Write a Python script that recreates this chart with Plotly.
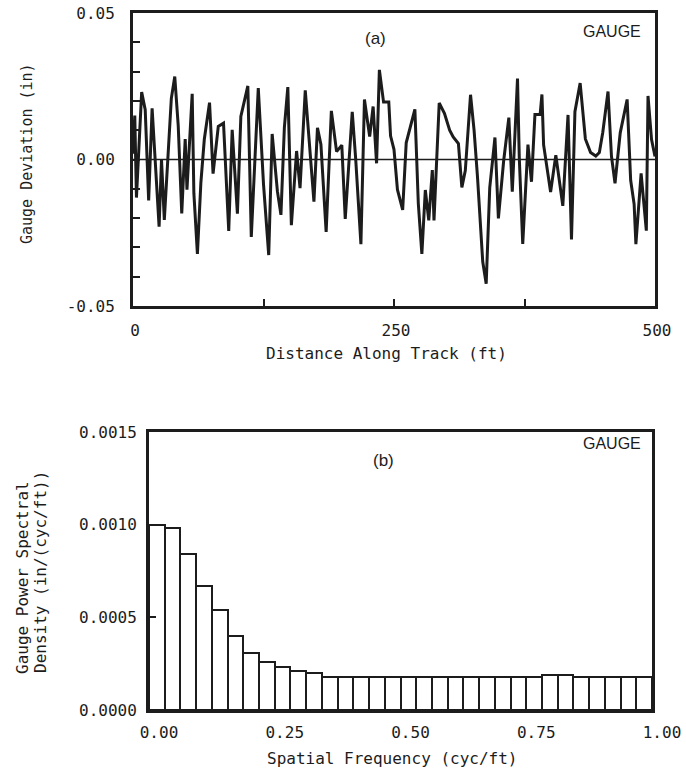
import plotly.graph_objects as go

# ---------------- data ----------------
distance_ft = [0, 1.7, 3.3, 8.3, 11.7, 15, 18.3, 25, 27.3, 30, 36.7, 40, 43.3, 46.7, 50, 51.7,
               56.7, 58.3, 61.7, 65, 68.3, 73.3, 76.7, 81.7, 86.7, 91.7, 95, 100, 103.3, 110,
               113.3, 120, 125, 130, 133.3, 138.3, 141.7, 145, 148.3, 151.7, 156.7, 160, 165,
               168.3, 173.3, 176.7, 180, 185, 190, 195, 200, 203.3, 210, 213.3, 218.3, 221.7,
               226.7, 230, 233.3, 236, 240, 245, 246.7, 250, 253.3, 258.3, 261.7, 270, 273.3,
               276.7, 280, 283.3, 286.7, 288.3, 293.3, 298.3, 303.3, 306.7, 311.7, 315, 318.3,
               323.3, 326.7, 330, 335, 338.3, 341.7, 346.7, 350, 355, 360, 363.3, 368.3, 370,
               373.3, 378.3, 381.7, 385, 390, 391.7, 393.3, 400, 405, 411.7, 416.7, 420, 423.3,
               428.3, 433.3, 438.3, 443.3, 446.7, 450, 455, 458.3, 461.7, 466.7, 473.3, 476.7,
               480, 481.7, 486.7, 491.7, 493.3, 496.7, 500]
gauge_dev_in = [0.002, 0.015, -0.013, 0.023, 0.017, -0.014, 0.0175, -0.0229, 0.000, -0.0206,
                0.0208, 0.0283, 0.0116, -0.0184, 0.0070, -0.0103, 0.0224, -0.0115, -0.0322,
                -0.0080, 0.0069, 0.0194, -0.0048, 0.0113, 0.0124, -0.0244, 0.0101, -0.0185,
                0.0147, 0.0251, -0.0264, 0.0244, -0.0084, -0.0326, 0.0087, -0.0108, -0.0189,
                0.0110, 0.0247, -0.0224, 0.0029, -0.0098, 0.0236, 0.0085, -0.0144, 0.0108,
                0.0051, -0.0247, 0.0166, 0.0027, 0.0049, -0.0203, 0.0163, 0.0002, -0.0289,
                0.0205, 0.0078, 0.0181, -0.0013, 0.0306, 0.0196, 0.0196, 0.0081, 0.0034,
                -0.0103, -0.0172, 0.0057, 0.0171, -0.0151, -0.0322, -0.0104, -0.0208, -0.0036,
                -0.0208, 0.0193, 0.0158, 0.0100, 0.0077, 0.0054, -0.0095, -0.0038, 0.0221,
                0.0100, -0.0061, -0.0349, -0.0424, -0.0097, 0.0075, -0.0201, -0.0006, 0.0143,
                -0.0110, 0.0276, 0.0006, -0.0288, 0.0051, -0.0076, 0.0154, 0.0154, 0.0222,
                0.0050, -0.0111, 0.0015, -0.0158, 0.0152, -0.0273, 0.0163, 0.0261, 0.0070,
                0.0024, 0.0012, 0.0024, 0.0093, 0.0232, 0.0011, -0.0081, 0.0091, 0.0205,
                -0.0071, -0.0152, -0.0289, -0.0047, -0.0243, 0.0217, 0.0068, 0.0010]

psd_values = [0.00100, 0.00098, 0.00084, 0.00067, 0.00054, 0.00040, 0.00031, 0.00026,
              0.00023, 0.00021, 0.00020, 0.00018, 0.00018, 0.00018, 0.00018, 0.00018,
              0.00018, 0.00018, 0.00018, 0.00018, 0.00018, 0.00018, 0.00018, 0.00018,
              0.00018, 0.00019, 0.00019, 0.00018, 0.00018, 0.00018, 0.00018, 0.00018]
n_bins = len(psd_values)
bin_width = 1.0 / n_bins
freq_centers = [(i + 0.5) * bin_width for i in range(n_bins)]

top_xticks = [0, 250, 500]
top_yticks = [-0.05, 0.0, 0.05]
top_yticklabels = ["-0.05", "0.00", "0.05"]
bot_xticks = [0.0, 0.25, 0.5, 0.75, 1.0]
bot_yticks = [0.0, 0.0005, 0.0010, 0.0015]

# ---------------- figure ----------------
W, H = 686, 771
INK = "#1c1c1c"
MONO = "DejaVu Sans Mono"

def px_x(p):
    return p / W

def px_y(p):
    return 1 - p / H

fig = go.Figure()

fig.add_trace(go.Scatter(x=distance_ft, y=gauge_dev_in, mode="lines",
                         line=dict(color=INK, width=3), xaxis="x", yaxis="y",
                         showlegend=False, hoverinfo="skip"))

fig.add_trace(go.Bar(x=freq_centers, y=psd_values, width=bin_width,
                     marker=dict(color="white", line=dict(color=INK, width=2)),
                     xaxis="x2", yaxis="y2", showlegend=False, hoverinfo="skip"))

# zero reference line in panel (a)
fig.add_shape(type="line", x0=0, x1=500, y0=0, y1=0, xref="x", yref="y",
              line=dict(color=INK, width=1.6))

axis_common = dict(showline=True, linecolor=INK, linewidth=3, mirror=True,
                   showgrid=False, zeroline=False, ticks="inside", tickcolor=INK,
                   tickwidth=2, ticklen=7, automargin=False,
                   tickfont=dict(family=MONO, size=16, color=INK))

fig.update_layout(
    width=W, height=H,
    margin=dict(l=0, r=0, t=0, b=0, autoexpand=False),
    paper_bgcolor="white", plot_bgcolor="white",
    bargap=0,
    xaxis=dict(domain=[px_x(133), px_x(655)], range=[0, 500], anchor="y",
               tickvals=top_xticks, ticklabelstandoff=8, ticklabelshift=2,
               minor=dict(dtick=125, tick0=0, ticks="inside", ticklen=7,
                          tickwidth=2, tickcolor=INK),
               **axis_common),
    yaxis=dict(domain=[px_y(306), px_y(13)], range=[-0.05, 0.05], anchor="x",
               tickvals=top_yticks, ticktext=top_yticklabels, ticklabelstandoff=12,
               minor=dict(dtick=0.01, tick0=0, ticks="inside", ticklen=7,
                          tickwidth=2, tickcolor=INK),
               **axis_common),
    xaxis2=dict(domain=[px_x(149), px_x(652)], range=[0, 1], anchor="y2",
                tickvals=bot_xticks, tickformat=".2f", ticklabelstandoff=6,
                ticklabelshift=10, **axis_common),
    yaxis2=dict(domain=[px_y(710), px_y(432)], range=[0, 0.0015], anchor="x2",
                tickvals=bot_yticks, tickformat=".4f", ticklabelstandoff=6,
                **axis_common),
)

annotations = [
    dict(text="Distance Along Track (ft)", x=px_x(386), y=px_y(354), size=16),
    dict(text="Spatial Frequency (cyc/ft)", x=px_x(392), y=px_y(758), size=16),
    dict(text="Gauge Deviation (in)", x=px_x(27), y=px_y(154), textangle=-90, size=15),
    dict(text="Gauge Power Spectral", x=px_x(22), y=px_y(578), textangle=-90, size=16),
    dict(text="Density (in/(cyc/ft))", x=px_x(40), y=px_y(572), textangle=-90, size=16),
]
for a in annotations:
    size = a.pop("size")
    fig.add_annotation(xref="paper", yref="paper", showarrow=False,
                       xanchor="center", yanchor="middle",
                       font=dict(family=MONO, size=size, color=INK), **a)

label_font = dict(family="Liberation Sans", size=17, color=INK)
gauge_font = dict(family="Liberation Sans Narrow, Liberation Sans", size=16, color=INK)
panel_labels = [
    dict(text="(a)", x=px_x(376), y=px_y(38), font=label_font),
    dict(text="GAUGE", x=px_x(612), y=px_y(32), font=gauge_font),
    dict(text="(b)", x=px_x(383), y=px_y(460), font=label_font),
    dict(text="GAUGE", x=px_x(612), y=px_y(444), font=gauge_font),
]
for a in panel_labels:
    fig.add_annotation(xref="paper", yref="paper", showarrow=False,
                       xanchor="center", yanchor="middle", **a)

# remove the browser's default page margin so the figure fills the window exactly
fig.write_html("out.html",
               config={"displayModeBar": False},
               post_script="document.body.style.margin='0px';"
                           "document.body.style.overflow='hidden';")
